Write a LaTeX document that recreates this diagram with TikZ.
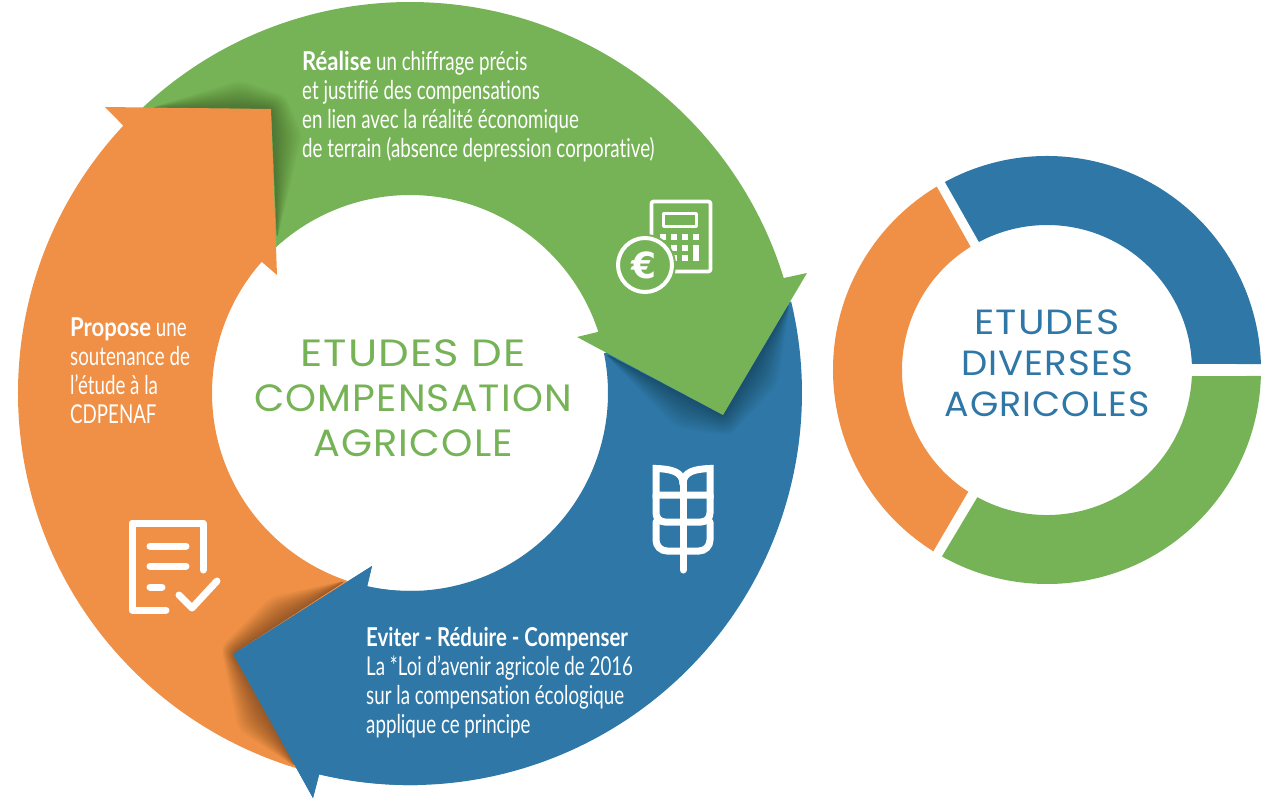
\documentclass[tikz,border=0pt]{standalone}
\usepackage{fontspec}
\usetikzlibrary{calc}
\setmainfont{Liberation Sans}
\newfontfamily\condfont[FakeStretch=0.72,Ligatures=NoCommon,BoldFont={Lato Bold},BoldFeatures={FakeStretch=0.85}]{Lato}
\newfontfamily\condboldnarrow[FakeStretch=0.785,Ligatures=NoCommon]{Lato Bold}
\newfontfamily\titlefont[LetterSpace=3]{Poppins}
\newfontfamily\eurofont{DejaVu Sans Bold}
\newcommand{\widen}[1]{\addfontfeature{FakeStretch=#1}}
\definecolor{agreen}{RGB}{118,179,86}
\definecolor{aorange}{RGB}{239,144,70}
\definecolor{ablue}{RGB}{46,119,166}
\tikzset{
  bluearrow/.style={insert path={($(m)+(102.5:198)$) -- (372,566) -- (233,654) -- (313,798) -- ($(m)+(103.4:392)$) arc[start angle=103.4,end angle=-13.5,radius=392pt] -- ($(m)+(-11.6:198)$) arc[start angle=-11.6,end angle=102.5,radius=198pt] -- cycle}},
  greenarrow/.style={insert path={($(m)+(226.9:391)$) arc[start angle=226.9,end angle=342.9,radius=391pt] -- (807,273) -- (723,415) -- (577,337) -- ($(m)+(342:198)$) arc[start angle=342,end angle=227.5,radius=198pt] -- cycle}},
  orangearrow/.style={insert path={($(m)+(221.5:198)$) -- (277,275) -- (271,109) -- (105,107) -- ($(m)+(223:392)$) arc[start angle=223,end angle=106.8,radius=392pt] -- ($(m)+(108.6:198)$) arc[start angle=108.6,end angle=221.5,radius=198pt] -- cycle}},
  softdark/.style={fill=black,fill opacity=#1,rounded corners=7pt},
  iconline/.style={draw=white,line cap=round,line join=round,fill=none},
  bodytext/.style={text=white,align=left,anchor=north west,inner sep=0pt,font=\condfont\fontsize{26}{29}\selectfont},
  bigtitle/.style={align=center,inner sep=0pt}
}
\newcommand{\softwedge}[9]{%
  \foreach \t in {1,...,20}{%
    \fill[softdark=#9] #1 -- ($#2!\t/20!#3$) -- ($#4!\t/20!#5$) -- ($#6!\t/20!#7$) -- #8 -- #4 -- cycle;
  }%
}
\begin{document}
\begin{tikzpicture}[x=1pt,y=1pt,yscale=-1]
\useasboundingbox (0,0) rectangle (1275,801);
\coordinate (m) at (410,393);
\coordinate (n) at (1047,370);
% blue arrow, lowest layer
\fill[ablue,bluearrow];
% shadow of green on blue
\begin{scope}
  \clip[bluearrow];
  \softwedge{(604,353)}{(690,397)}{(676,428)}{(723,415)}{(730,436)}{(750,370)}{(778,384)}{(790,302)}{0.016}
\end{scope}
% green arrow
\fill[agreen,greenarrow];
% shadow of orange on green
\begin{scope}
  \clip[greenarrow];
  \softwedge{(150,108)}{(240,108)}{(240,80)}{(271,109)}{(286,96)}{(272,135)}{(303,135)}{(277,240)}{0.017}
\end{scope}
% orange arrow
\fill[aorange,orangearrow];
% shadow of blue on orange
\begin{scope}
  \clip[orangearrow];
  \softwedge{(347,580)}{(290,618)}{(270,597)}{(233,654)}{(221,647)}{(266,713)}{(238,730)}{(297,768)}{0.02}
\end{scope}
% head of blue arrow, over the orange one
\begin{scope}
  \clip (200,540) rectangle (420,801);
  \fill[ablue,bluearrow];
\end{scope}
% calculator icon
\draw[iconline,line width=3.6pt,rounded corners=1.5pt] (651.5,201.5) rectangle (710.5,271.5);
\draw[iconline,line width=3.4pt] (663.5,213.5) rectangle (696.5,226.5);
\foreach \kx in {663,674,685,696}{\foreach \ky in {237,248,258}{
  \fill[white] (\kx-2.9,\ky-2.9) rectangle (\kx+2.9,\ky+2.9);}}
\fill[agreen] (696-4,242) rectangle (696+4,265);
\fill[white] (696-2.9,245) rectangle (696+2.9,261);
\fill[agreen] (645,265) circle[radius=31pt];
\draw[draw=white,line width=4pt] (645,265) circle[radius=27pt];
\node[text=white,inner sep=0pt,font=\eurofont\fontsize{36}{36}\selectfont] (euro) at (644,265) {€};
% wheat icon
\begin{scope}[iconline,line width=7pt,line join=miter]
  \draw (683,480) -- (683,570);
  \draw (683,484) .. controls (683,472) and (672,469) .. (656,468.5) -- (656,495) -- (683,495);
  \draw (683,484) .. controls (683,472) and (694,469) .. (710,468.5) -- (710,495) -- (683,495);
  \draw[rounded corners=9pt] (656,495) -- (656,522) -- (683,522);
  \draw[rounded corners=9pt] (710,495) -- (710,522) -- (683,522);
  \draw[rounded corners=11pt] (656,522) -- (656,551) -- (683,551);
  \draw[rounded corners=11pt] (710,522) -- (710,551) -- (683,551);
\end{scope}
% document icon
\begin{scope}[iconline,line width=7pt]
  \draw (166,610) -- (132,610) -- (132,523) -- (203,523) -- (203,570);
  \draw (150,546) -- (186,546);
  \draw (150,566) -- (186,566);
  \draw (150,587) -- (162,587);
  \draw (179,595) -- (192,608) -- (217,581);
\end{scope}
% texts
\node[bodytext] (realise) at (302,51) {\textbf{Réalise} un chiffrage précis\\et justifié des compensations\\en lien avec la réalité économique\\de terrain (absence depression corporative)};
\node[bodytext] (propose) at (70,317) {\textbf{Propose} une\\soutenance de\\l’étude à la\\CDPENAF};
\node[bodytext] (eviter) at (366,627) {{\condboldnarrow Eviter - Réduire - Compenser}\\La *Loi d’avenir agricole de 2016\\sur la compensation écologique\\applique ce principe};
\node[bigtitle,text=agreen,font=\titlefont\fontsize{38}{45}\selectfont] (title1) at (413,398) {{\widen{1.14}ETUDES DE}\\{\widen{1.036}COMPENSATION}\\{\widen{1.05}AGRICOLE}};
% right ring
\fill[ablue] ($(n)+(241.5:214)$) arc[start angle=241.5,end angle=358.4,radius=214pt] -- ($(n)+(357.6:145)$) arc[start angle=357.6,end angle=242,radius=145pt] -- cycle;
\fill[agreen] ($(n)+(1.6:214)$) arc[start angle=1.6,end angle=119.4,radius=214pt] -- ($(n)+(118.7:145)$) arc[start angle=118.7,end angle=2.4,radius=145pt] -- cycle;
\fill[aorange] ($(n)+(122.1:214)$) arc[start angle=122.1,end angle=239,radius=214pt] -- ($(n)+(238.2:145)$) arc[start angle=238.2,end angle=122.9,radius=145pt] -- cycle;
\node[bigtitle,text=ablue,font=\titlefont\fontsize{35}{41}\selectfont] (title2) at (1047,363) {{\widen{1.126}ETUDES}\\{\widen{1.06}DIVERSES}\\{\widen{1.04}AGRICOLES}};
\end{tikzpicture}
\end{document}
